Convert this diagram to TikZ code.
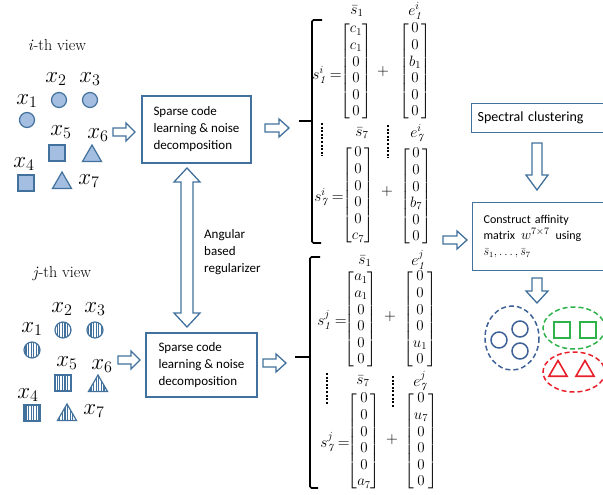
\RequirePackage{fix-cm}
\documentclass[tikz,border=0pt]{standalone}
\usepackage{amsmath}
\usepackage{fontspec}
\setsansfont{Carlito}
\usetikzlibrary{shapes.geometric,patterns.meta}
\definecolor{bl}{HTML}{41719C}
\definecolor{lfill}{HTML}{A3BEE0}
\definecolor{cblue}{HTML}{3E6297}
\definecolor{cgreen}{HTML}{2DB34A}
\definecolor{cred}{HTML}{E8202A}
\tikzset{
  box/.style={draw=bl, line width=1.3pt, fill=white, font=\sffamily\fontsize{13}{17}\selectfont, align=left},
  lbl/.style={font=\fontsize{23}{23}\selectfont, inner sep=0pt},
  viewlbl/.style={font=\rmfamily\fontsize{16}{16}\selectfont, inner sep=0pt},
  ptA/.style={draw=bl, line width=1.2pt, fill=lfill, inner sep=0pt},
  ptB/.style={draw=bl, line width=1.2pt, pattern={Lines[angle=90,distance=2.6pt,line width=1.1pt]}, pattern color=bl, inner sep=0pt},
  crc/.style={circle, minimum size=15pt},
  sqr/.style={rectangle, minimum size=16pt},
  tri/.style={regular polygon, regular polygon sides=3, minimum size=22pt},
  mat/.style={font=\fontsize{15}{16.6}\selectfont, inner sep=0pt},
  slbl/.style={font=\fontsize{15.5}{16}\selectfont, inner sep=0pt},
  brace/.style={line width=1.6pt, black},
  dots/.style={line width=2.8pt, dash pattern=on 2pt off 1.6pt, black},
  blkline/.style={draw=bl, line width=1.3pt, fill=white},
  pics/blk/.style args={#1/#2/#3/#4}{code={
    \draw[blkline] (0,-#2) -- ({#1-#4},-#2) -- ({#1-#4},-#3) -- (#1,0) -- ({#1-#4},#3) -- ({#1-#4},#2) -- (0,#2) -- cycle;}},
  pics/dblk/.style args={#1/#2/#3/#4}{code={
    \draw[blkline] (0,0) -- (#4,#3) -- (#4,#2) -- ({#1-#4},#2) -- ({#1-#4},#3) -- (#1,0) -- ({#1-#4},-#3) -- ({#1-#4},-#2) -- (#4,-#2) -- (#4,-#3) -- cycle;}},
  clu/.style={line width=1.5pt, dash pattern=on 5pt off 3pt},
}
\begin{document}
\begin{tikzpicture}[x=1pt,y=-1pt]
\useasboundingbox (0,0) rectangle (603,495);
\clip (0,0) rectangle (603,495);

% ---------- i-th view ----------
\node[viewlbl] (iview) at (57,45) {\textit{i}-th view};
\node[ptA,crc] (ia1) at (27,120) {};
\node[ptA,crc] (ia2) at (59,100) {};
\node[ptA,crc] (ia3) at (90,100) {};
\node[ptA,sqr] (ia5) at (57,153) {};
\node[ptA,tri] (ia6) at (92,156) {};
\node[ptA,sqr] (ia4) at (26,183) {};
\node[ptA,tri] (ia7) at (62,183) {};
\node[lbl] (il1) at (27,101) {$x_1$};
\node[lbl] (il2) at (56,79) {$x_2$};
\node[lbl] (il3) at (90,79) {$x_3$};
\node[lbl] (il5) at (61,132) {$x_5$};
\node[lbl] (il6) at (98,135) {$x_6$};
\node[lbl] (il4) at (24,164) {$x_4$};
\node[lbl] (il7) at (89,181) {$x_7$};

% ---------- j-th view ----------
\node[viewlbl] (jview) at (62,274) {\textit{j}-th view};
\node[ptB,crc,minimum size=16pt] (ja1) at (32,350) {};
\node[ptB,crc,minimum size=16pt] (ja2) at (63,330) {};
\node[ptB,crc,minimum size=16pt] (ja3) at (95,330) {};
\node[ptB,sqr] (ja5) at (63,383) {};
\node[ptB,tri] (ja6) at (98,386) {};
\node[ptB,sqr] (ja4) at (32,413) {};
\node[ptB,tri] (ja7) at (67,415) {};
\node[lbl] (jl1) at (32,329) {$x_1$};
\node[lbl] (jl2) at (62,309) {$x_2$};
\node[lbl] (jl3) at (95,309) {$x_3$};
\node[lbl] (jl5) at (67,363) {$x_5$};
\node[lbl] (jl6) at (102,366) {$x_6$};
\node[lbl] (jl4) at (28,395) {$x_4$};
\node[lbl] (jl7) at (94,411) {$x_7$};

% ---------- boxes ----------
\node[box, minimum width=109pt, minimum height=67pt] (sc1) at (196.5,129.5) {Sparse code\\learning \& noise\\decomposition};
\node[box, minimum width=111pt, minimum height=64pt] (sc2) at (201.5,365) {Sparse code\\learning \& noise\\decomposition};
\node[box, anchor=north west, minimum height=29pt, text width=140pt, inner xsep=6pt, font=\sffamily\fontsize{14}{17}\selectfont] (spec) at (471,103) {Spectral clustering};
\node[box, anchor=north west, minimum height=68pt, text width=140pt, inner xsep=11pt, font=\sffamily\fontsize{12}{16}\selectfont] (aff) at (472,202) {Construct affinity\\matrix\enspace{\fontsize{14}{16}\selectfont$w^{7\times 7}$}\enspace using\\$\bar{s}_1,\dots,\bar{s}_7$};
\node[anchor=west, align=left, inner sep=0pt, font=\sffamily\fontsize{13}{17}\selectfont] (ang) at (204,252) {Angular\\based\\regularizer};

% ---------- block arrows ----------
\path (113,132) pic {blk=22/4/9/9};
\path (265,128) pic {blk=24/4/9/10};
\path (118,360) pic {blk=22/4/9/9};
\path (263,363) pic {blk=23/4/9/10};
\path (443,240) pic {blk=24/4/9/10};
\path (537,143) pic[rotate=-90] {blk=47/5/11/15};
\path (537,278) pic[rotate=-90] {blk=25/5/11/12};
\path (187,327) pic[rotate=90] {dblk=159/6/13/14};

% ---------- braces ----------
\draw[brace, rounded corners=1.5pt] (322,20) -- (312,20) -- (312,243) -- (321,243);
\draw[brace] (299,121) -- (312,121);
\draw[brace, rounded corners=1.5pt] (320,257) -- (310,257) -- (310,488) -- (318,488);
\draw[brace] (295,357) -- (310,357);

% ---------- top equations ----------
\node[slbl] (sb1i) at (357,11) {$\bar{s}_1$};
\node[slbl] (e1i) at (415,11) {$e^{i}_{\mathit{1}}$};
\node[slbl] (s1i) at (327,75) {$s^{i}_{\mathit{1}}=$};
\node[mat] (m1i) at (356,71) {$\begin{bmatrix}c_1\\c_1\\0\\0\\0\\0\end{bmatrix}$};
\node[slbl] (p1i) at (383,72) {$+$};
\node[mat] (n1i) at (415,71) {$\begin{bmatrix}0\\0\\b_1\\0\\0\\0\end{bmatrix}$};
\draw[dots] (322,123) -- (322,156);
\draw[dots] (388,125) -- (388,158);
\node[slbl] (sb7i) at (362,133) {$\bar{s}_7$};
\node[slbl] (e7i) at (417,133) {$e^{i}_{\mathit{7}}$};
\node[slbl] (s7i) at (329,197) {$s^{i}_{\mathit{7}}=$};
\node[mat] (m7i) at (358,195) {$\begin{bmatrix}0\\0\\0\\0\\0\\c_7\end{bmatrix}$};
\node[slbl] (p7i) at (387,192) {$+$};
\node[mat] (n7i) at (416,196) {$\begin{bmatrix}0\\0\\0\\b_7\\0\\0\end{bmatrix}$};

% ---------- bottom equations ----------
\node[slbl] (sb1j) at (365,261) {$\bar{s}_1$};
\node[slbl] (e1j) at (418,260) {$e^{j}_{\mathit{1}}$};
\node[slbl] (s1j) at (332,320) {$s^{j}_{\mathit{1}}=$};
\node[mat] (m1j) at (361,319) {$\begin{bmatrix}a_1\\a_1\\0\\0\\0\\0\end{bmatrix}$};
\node[slbl] (p1j) at (390,317) {$+$};
\node[mat] (n1j) at (420,319) {$\begin{bmatrix}0\\0\\0\\0\\u_1\\0\end{bmatrix}$};
\draw[dots] (327,373) -- (327,405);
\draw[dots] (393,376) -- (393,408);
\node[slbl] (sb7j) at (363,381) {$\bar{s}_7$};
\node[slbl] (e7j) at (420,381) {$e^{j}_{\mathit{7}}$};
\node[slbl] (s7j) at (335,442) {$s^{j}_{\mathit{7}}=$};
\node[mat] (m7j) at (364,441) {$\begin{bmatrix}0\\0\\0\\0\\0\\a_7\end{bmatrix}$};
\node[slbl] (p7j) at (392,440) {$+$};
\node[mat] (n7j) at (421,441) {$\begin{bmatrix}0\\u_7\\0\\0\\0\\0\end{bmatrix}$};

% ---------- clusters ----------
\draw[clu, draw=cblue] (512,338) ellipse [x radius=27, y radius=32];
\draw[clu, draw=cgreen] (574,328) ellipse [x radius=31, y radius=21];
\draw[clu, draw=cred] (574,372) ellipse [x radius=31, y radius=20];
\node[circle, draw=cblue, line width=1.5pt, minimum size=16pt, inner sep=0pt] (k1) at (499,340) {};
\node[circle, draw=cblue, line width=1.5pt, minimum size=16pt, inner sep=0pt] (k2) at (520,329) {};
\node[circle, draw=cblue, line width=1.5pt, minimum size=16pt, inner sep=0pt] (k3) at (520,351) {};
\node[rectangle, draw=cgreen, line width=1.6pt, minimum size=16pt, inner sep=0pt] (g1) at (562,330) {};
\node[rectangle, draw=cgreen, line width=1.6pt, minimum size=16pt, inner sep=0pt] (g2) at (588,330) {};
\node[regular polygon, regular polygon sides=3, draw=cred, line width=1.6pt, minimum size=21pt, inner sep=0pt] (r1) at (558,371) {};
\node[regular polygon, regular polygon sides=3, draw=cred, line width=1.6pt, minimum size=21pt, inner sep=0pt] (r2) at (585,371) {};
\end{tikzpicture}
\end{document}
